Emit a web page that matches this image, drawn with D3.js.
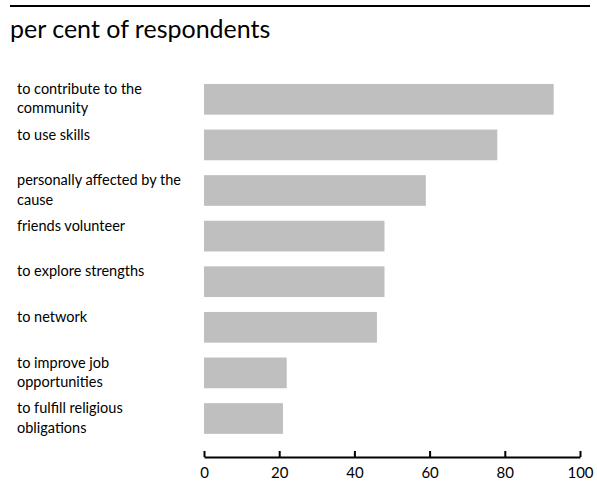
<!DOCTYPE html>
<html lang="en">
<head>
    <meta charset="UTF-8">
    <title>Reasons for volunteering</title>
    <style>
        body {
            margin: 0;
            background: #ffffff;
        }
        svg {
            display: block;
        }
        text {
            font-family: Lato, 'Open Sans', sans-serif;
            fill: #000;
        }
    </style>
</head>
<body>
    <svg width="597" height="487"></svg>
    <script src="https://d3js.org/d3.v7.min.js"></script>
    <script>
        // Data
        var reasons = [
            "to contribute to the\ncommunity",
            "to use skills",
            "personally affected by the\ncause",
            "friends volunteer",
            "to explore strengths",
            "to network",
            "to improve job\nopportunities",
            "to fulfill religious\nobligations"
        ];
        var percents = [93, 78, 59, 48, 48, 46, 22, 21];
        var xTicks = [0, 20, 40, 60, 80, 100];

        var data = reasons.map(function(r, i) { return {reason: r, value: percents[i]}; });

        var svg = d3.select("svg");

        // Top rule + title
        svg.append("line")
            .attr("x1", 10).attr("x2", 590)
            .attr("y1", 6).attr("y2", 6)
            .attr("stroke", "#000")
            .attr("stroke-width", 2);

        svg.append("text")
            .attr("x", 10)
            .attr("y", 38)
            .attr("font-size", "25px")
            .text("per cent of respondents");

        // Scales
        var x = d3.scaleLinear().domain([0, 100]).range([204, 580]);
        var y = d3.scaleBand()
            .domain(reasons)
            .range([76.5, 441.3])
            .paddingInner(0.327)
            .paddingOuter(0.1635);

        // Bars
        svg.selectAll(".bar")
            .data(data)
            .enter().append("rect")
            .attr("class", "bar")
            .attr("x", x(0))
            .attr("y", function(d) { return y(d.reason); })
            .attr("width", function(d) { return x(d.value) - x(0); })
            .attr("height", y.bandwidth())
            .attr("fill", "#bfbfbf");

        // Category labels (wrapped, top-aligned with bar)
        var labels = svg.selectAll(".label")
            .data(data)
            .enter().append("text")
            .attr("class", "label")
            .attr("font-size", "14.5px")
            .attr("y", function(d) { return y(d.reason) + 10; });

        labels.selectAll("tspan")
            .data(function(d) { return d.reason.split("\n"); })
            .enter().append("tspan")
            .attr("x", 17)
            .attr("dy", function(d, i) { return i === 0 ? 0 : 19.5; })
            .text(function(d) { return d; });

        // X axis, ticks pointing up
        var axis = svg.append("g")
            .attr("transform", "translate(0,457)")
            .call(d3.axisBottom(x).tickValues(xTicks).tickSize(-6).tickSizeOuter(0).tickPadding(9));

        axis.select(".domain")
            .attr("stroke", "#000")
            .attr("stroke-width", 2);
        axis.selectAll(".tick line")
            .attr("stroke", "#000")
            .attr("stroke-width", 2);
        axis.selectAll(".tick text")
            .attr("font-family", "Lato, 'Open Sans', sans-serif")
            .attr("font-size", "15px")
            .attr("dy", "0.71em")
            .attr("y", 10);
    </script>
</body>
</html>
